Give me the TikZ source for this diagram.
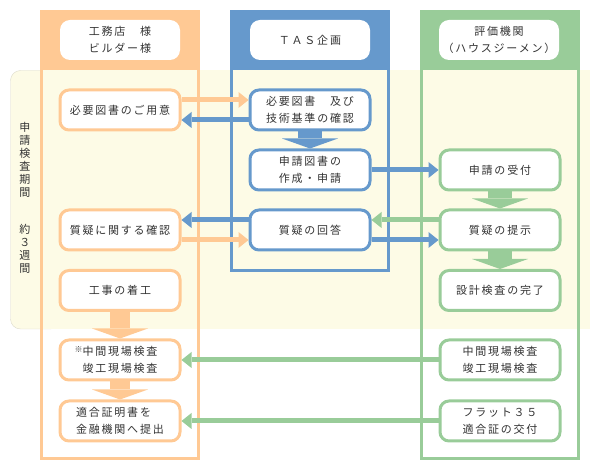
\documentclass[tikz,border=0pt]{standalone}
\usepackage{fontspec}
\usepackage{xcolor}
\usepackage{tikz}
\usetikzlibrary{arrows.meta,positioning,calc}
\newfontfamily\jpfont{Noto Sans CJK JP}[LetterSpace=16]
\definecolor{lanebiz}{HTML}{FFC994}
\definecolor{lanetas}{HTML}{6699CC}
\definecolor{laneeval}{HTML}{99CC99}
\definecolor{periodbg}{HTML}{FDFBE6}
\definecolor{periodline}{HTML}{DCDACB}
\definecolor{textgray}{HTML}{333333}
\tikzset{
  stepbox/.style={draw=#1, line width=3pt, rounded corners=9pt, fill=white, align=center, text=textgray, inner sep=2pt, minimum width=120pt, minimum height=40pt},
  headbox/.style={fill=white, rounded corners=10pt, align=center, text=textgray, inner sep=2pt, minimum width=120pt, minimum height=40pt},
  lane/.style={draw=#1, line width=3pt},
  flow/.style={draw=#1, line width=5pt, -{Triangle[width=16pt, length=10pt, line width=0pt]}},
  bigdown/.style={draw=#1, line width=24pt, -{Triangle[width=56pt, length=10pt, line width=0pt]}}
}

\begin{document}
\begin{tikzpicture}[x=1pt, y=-1pt, font=\jpfont\fontsize{11pt}{17pt}\selectfont]
  \useasboundingbox (0,0) rectangle (590,470);

  % review period band
  \draw[periodline, fill=periodbg, rounded corners=10pt] (10.5,70.5) rectangle (60,329);
  \fill[periodbg] (40,70) rectangle (590,329);
  \node[text=textgray, align=center, anchor=north, inner sep=0pt, font=\jpfont\fontsize{11pt}{13pt}\selectfont] (period) at (25,122) {申\\請\\検\\査\\期\\間\\[24pt]約\\３\\週\\間};

  % lanes
  \draw[lane=lanebiz] (41.5,11.5) rectangle (198.5,458.5);
  \fill[lanebiz] (40,10) rectangle (200,70);
  \draw[lane=lanetas] (231.5,11.5) rectangle (388.5,270.5);
  \fill[lanetas] (230,10) rectangle (390,70);
  \draw[lane=laneeval] (421.5,11.5) rectangle (578.5,458.5);
  \fill[laneeval] (420,10) rectangle (580,70);

  \node[headbox] (builder) at (120,40) {工務店　様\\ビルダー様};
  \node[headbox] (tas) at (310,40) {ＴＡＳ企画};
  \node[headbox] (agency) at (499,40) {評価機関\\（ハウスジーメン）};

  % steps
  \node[stepbox=lanebiz] (ready) at (120,110) {必要図書のご用意};
  \node[stepbox=lanebiz] (confirm) at (120,230) {質疑に関する確認};
  \node[stepbox=lanebiz] (start) at (120,290.5) {工事の着工};
  \node[stepbox=lanebiz] (inspect) at (120,360) {\llap{\fontsize{8pt}{8pt}\selectfont\raisebox{3pt}{※}}中間現場検査\\竣工現場検査};
  \node[stepbox=lanebiz, align=left] (submit) at (120,421) {適合証明書を\\金融機関へ提出};

  \node[stepbox=lanetas] (check) at (310,110) {必要図書　及び\\技術基準の確認};
  \node[stepbox=lanetas] (apply) at (310,170) {申請図書の\\作成・申請};
  \node[stepbox=lanetas] (answer) at (310,230) {質疑の回答};

  \node[stepbox=laneeval] (receive) at (500,170) {申請の受付};
  \node[stepbox=laneeval] (question) at (500,230) {質疑の提示};
  \node[stepbox=laneeval] (finish) at (500,290.5) {設計検査の完了};
  \node[stepbox=laneeval] (site) at (500,360) {中間現場検査\\竣工現場検査};
  \node[stepbox=laneeval] (flat) at (500,421) {フラット３５\\適合証の交付};

  % flows
  \draw[flow=lanebiz] ([yshift=10pt]ready.east) -- ([yshift=10pt]ready.east -| check.west);
  \draw[flow=lanetas] ([yshift=-10pt]check.west) -- ([yshift=-10pt]check.west -| ready.east);
  \draw[flow=lanetas] (apply) -- (receive);
  \draw[flow=lanetas] ([yshift=10pt]answer.west) -- ([yshift=10pt]answer.west -| confirm.east);
  \draw[flow=lanebiz] ([yshift=-10pt]confirm.east) -- ([yshift=-10pt]confirm.east -| answer.west);
  \draw[flow=laneeval] ([yshift=10pt]question.west) -- ([yshift=10pt]question.west -| answer.east);
  \draw[flow=lanetas] ([yshift=-10pt]answer.east) -- ([yshift=-10pt]answer.east -| question.west);
  \draw[flow=laneeval] (site) -- (inspect);
  \draw[flow=laneeval] (flat) -- (submit);

  \draw[bigdown=lanetas] (check) -- (apply);
  \draw[bigdown=laneeval] (receive) -- (question);
  \draw[bigdown=laneeval] (question) -- (finish);
  \draw[bigdown=lanebiz, line width=20pt] (start) -- (inspect);
  \draw[bigdown=lanebiz, line width=20pt] (inspect) -- (submit);
\end{tikzpicture}
\end{document}
